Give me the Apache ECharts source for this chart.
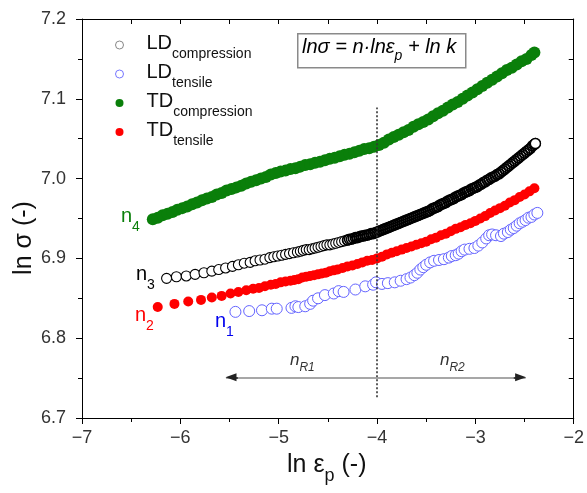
<!DOCTYPE html>
<html>
<head>
<meta charset="utf-8">
<script src="https://cdn.jsdelivr.net/npm/echarts@6/dist/echarts.min.js"></script>
<style>html,body{margin:0;padding:0;background:#fff;}#c{width:587px;height:493px;}</style>
</head>
<body>
<div id="c"></div>
<script>
// ---- data ----
const xTicks = [-7, -6, -5, -4, -3, -2];
const yTicks = [6.7, 6.8, 6.9, 7.0, 7.1, 7.2];

const ldCompression = [
[-6.14,6.875],[-6.04,6.877],[-5.94,6.878],[-5.85,6.880],[-5.76,6.882],[-5.68,6.884],[-5.61,6.886],[-5.54,6.888],[-5.47,6.890],[-5.41,6.892],
[-5.35,6.894],[-5.29,6.895],[-5.24,6.897],[-5.19,6.898],[-5.14,6.899],[-5.09,6.901],[-5.05,6.902],[-5.01,6.903],[-4.97,6.904],[-4.93,6.905],
[-4.89,6.906],[-4.85,6.907],[-4.81,6.908],[-4.78,6.909],[-4.75,6.910],[-4.72,6.911],[-4.69,6.911],[-4.66,6.912],[-4.63,6.913],[-4.60,6.914],
[-4.57,6.915],[-4.54,6.916],[-4.51,6.917],[-4.48,6.917],[-4.45,6.918],[-4.42,6.919],[-4.39,6.920],[-4.36,6.921],[-4.33,6.922],[-4.30,6.923],
[-4.28,6.924],[-4.26,6.924],[-4.24,6.925],[-4.22,6.926],[-4.20,6.926],[-4.18,6.927],[-4.16,6.928],[-4.14,6.928],[-4.12,6.929],[-4.10,6.929],
[-4.08,6.930],[-4.06,6.931],[-4.04,6.931],[-4.02,6.932],[-4.00,6.933],[-3.98,6.934],[-3.96,6.935],[-3.94,6.936],[-3.92,6.937],[-3.90,6.938],
[-3.88,6.939],[-3.86,6.940],[-3.84,6.941],[-3.82,6.942],[-3.80,6.943],[-3.78,6.944],[-3.76,6.945],[-3.74,6.946],[-3.72,6.947],[-3.70,6.948],
[-3.68,6.949],[-3.66,6.950],[-3.64,6.951],[-3.62,6.952],[-3.60,6.953],[-3.58,6.954],[-3.56,6.955],[-3.54,6.956],[-3.52,6.957],[-3.50,6.958],
[-3.48,6.959],[-3.46,6.960],[-3.44,6.962],[-3.42,6.963],[-3.40,6.964],[-3.38,6.965],[-3.36,6.967],[-3.34,6.968],[-3.32,6.969],[-3.30,6.970],
[-3.28,6.972],[-3.26,6.973],[-3.24,6.974],[-3.22,6.975],[-3.20,6.977],[-3.18,6.978],[-3.16,6.979],[-3.14,6.980],[-3.12,6.982],[-3.10,6.983],
[-3.08,6.984],[-3.06,6.985],[-3.04,6.987],[-3.02,6.988],[-3.00,6.989],[-2.98,6.990],[-2.96,6.992],[-2.94,6.993],[-2.92,6.995],[-2.90,6.996],
[-2.88,6.998],[-2.86,6.999],[-2.84,7.001],[-2.82,7.002],[-2.80,7.003],[-2.78,7.005],[-2.76,7.006],[-2.74,7.008],[-2.72,7.010],[-2.70,7.012],
[-2.68,7.014],[-2.66,7.016],[-2.64,7.018],[-2.62,7.020],[-2.60,7.022],[-2.58,7.024],[-2.56,7.026],[-2.54,7.028],[-2.52,7.030],[-2.50,7.032],
[-2.48,7.034],[-2.46,7.036],[-2.44,7.038],[-2.42,7.041],[-2.40,7.043],[-2.39,7.044]
];

const ldTensile = [
[-5.44,6.833],[-5.30,6.834],[-5.17,6.835],[-5.07,6.837],[-5.02,6.837],[-4.87,6.838],[-4.83,6.840],[-4.80,6.839],[-4.73,6.840],[-4.68,6.843],
[-4.65,6.847],[-4.60,6.850],[-4.53,6.854],[-4.44,6.856],[-4.39,6.859],[-4.34,6.858],[-4.22,6.861],[-4.12,6.865],[-4.04,6.867],[-4.01,6.870],
[-3.95,6.868],[-3.89,6.869],[-3.82,6.870],[-3.76,6.872],[-3.70,6.874],[-3.66,6.876],[-3.62,6.879],[-3.59,6.882],[-3.56,6.886],[-3.53,6.889],
[-3.50,6.892],[-3.46,6.895],[-3.42,6.897],[-3.37,6.898],[-3.32,6.899],[-3.27,6.901],[-3.24,6.903],[-3.20,6.904],[-3.17,6.906],[-3.14,6.909],
[-3.11,6.911],[-3.06,6.912],[-3.01,6.913],[-2.97,6.916],[-2.93,6.920],[-2.89,6.925],[-2.86,6.929],[-2.83,6.930],[-2.79,6.929],[-2.74,6.928],
[-2.71,6.931],[-2.67,6.933],[-2.64,6.936],[-2.61,6.938],[-2.58,6.941],[-2.55,6.944],[-2.52,6.946],[-2.49,6.948],[-2.46,6.951],[-2.43,6.952],
[-2.40,6.955],[-2.37,6.957]
];

const tdCompression = [
[-6.28,6.949],[-6.23,6.951],[-6.18,6.954],[-6.13,6.956],[-6.08,6.958],[-6.03,6.961],[-5.98,6.963],[-5.93,6.965],[-5.88,6.968],[-5.83,6.970],
[-5.78,6.973],[-5.73,6.975],[-5.68,6.977],[-5.63,6.980],[-5.58,6.982],[-5.53,6.985],[-5.48,6.987],[-5.43,6.989],[-5.38,6.991],[-5.33,6.994],
[-5.28,6.996],[-5.23,6.998],[-5.18,7.000],[-5.13,7.002],[-5.08,7.005],[-5.03,7.007],[-4.98,7.009],[-4.93,7.010],[-4.88,7.012],[-4.83,7.013],
[-4.78,7.015],[-4.73,7.017],[-4.68,7.018],[-4.63,7.020],[-4.58,7.021],[-4.53,7.023],[-4.48,7.025],[-4.43,7.026],[-4.38,7.028],[-4.33,7.030],
[-4.28,7.031],[-4.23,7.033],[-4.18,7.035],[-4.13,7.037],[-4.08,7.038],[-4.03,7.040],[-3.98,7.042],[-3.93,7.045],[-3.88,7.049],[-3.83,7.052],
[-3.78,7.055],[-3.73,7.058],[-3.68,7.061],[-3.63,7.065],[-3.58,7.068],[-3.53,7.071],[-3.48,7.074],[-3.43,7.078],[-3.38,7.082],[-3.33,7.085],
[-3.28,7.089],[-3.23,7.093],[-3.18,7.096],[-3.13,7.100],[-3.08,7.104],[-3.03,7.108],[-2.98,7.112],[-2.93,7.116],[-2.88,7.120],[-2.83,7.124],
[-2.78,7.128],[-2.73,7.132],[-2.68,7.136],[-2.63,7.139],[-2.58,7.143],[-2.53,7.147],[-2.48,7.150],[-2.43,7.155],[-2.40,7.158]
];

const tdTensile = [
[-6.23,6.839],[-6.06,6.843],[-5.92,6.846],[-5.79,6.848],[-5.68,6.851],[-5.58,6.853],[-5.49,6.856],[-5.41,6.858],[-5.33,6.860],[-5.26,6.862],
[-5.20,6.863],[-5.14,6.865],[-5.08,6.867],[-5.03,6.868],[-4.98,6.870],[-4.93,6.871],[-4.88,6.872],[-4.84,6.873],[-4.80,6.874],[-4.76,6.876],
[-4.72,6.877],[-4.68,6.878],[-4.64,6.879],[-4.60,6.880],[-4.56,6.881],[-4.52,6.882],[-4.48,6.884],[-4.44,6.885],[-4.40,6.886],[-4.35,6.888],
[-4.30,6.890],[-4.25,6.891],[-4.20,6.893],[-4.15,6.895],[-4.10,6.897],[-4.05,6.898],[-4.00,6.900],[-3.95,6.902],[-3.90,6.905],[-3.85,6.907],
[-3.80,6.909],[-3.75,6.911],[-3.70,6.913],[-3.65,6.915],[-3.60,6.917],[-3.55,6.919],[-3.50,6.921],[-3.45,6.924],[-3.40,6.926],[-3.35,6.929],
[-3.30,6.931],[-3.25,6.934],[-3.20,6.937],[-3.15,6.939],[-3.10,6.942],[-3.05,6.944],[-3.00,6.947],[-2.95,6.950],[-2.90,6.953],[-2.85,6.957],
[-2.80,6.960],[-2.75,6.963],[-2.70,6.966],[-2.65,6.970],[-2.60,6.973],[-2.55,6.977],[-2.50,6.980],[-2.45,6.984],[-2.40,6.988]
];

// annotation positions in data units
const dividerX = -4;
const dividerY = [6.726, 7.089];
const arrowY = 6.751;
const arrowX = [-5.535, -2.49];

// ---- chart ----
const FONT = 'Liberation Sans, Arial, sans-serif';
const chart = echarts.init(document.getElementById('c'), null, {renderer: 'canvas'});

const legendNames = {
  'LD compression': '{a|LD}{b|compression}',
  'LD tensile': '{a|LD}{b|tensile}',
  'TD compression': '{a|TD}{b|compression}',
  'TD tensile': '{a|TD}{b|tensile}'
};

function nLabel(x, y, sub, color) {
  return {
    type: 'text', left: x, top: y, silent: true,
    style: {text: '{a|n}{b|' + sub + '}', rich: {
      a: {fontSize: 20, lineHeight: 24, verticalAlign: 'top', fill: color, fontFamily: FONT},
      b: {fontSize: 14, lineHeight: 14, verticalAlign: 'top', padding: [14, 0, 0, 0], fill: color, fontFamily: FONT}
    }}
  };
}

// sparse (left), dense (right) and final point of the LD compression curve
const ldCompSparse = ldCompression.filter(p => p[0] < -4.29);
const ldCompDense = ldCompression.filter(p => p[0] >= -4.31);
const ldCompLast = ldCompression.slice(-1);

const option = {
  animation: false,
  backgroundColor: '#fff',
  grid: {left: 82, right: 10, top: 19, bottom: 75, containLabel: false},
  xAxis: [{
    type: 'value', min: -7, max: -2, interval: 1, position: 'bottom',
    axisLine: {show: true, onZero: false, lineStyle: {color: '#000', width: 1}},
    axisTick: {show: true, inside: false, length: 6, lineStyle: {color: '#000'}},
    minorTick: {show: true, splitNumber: 2, length: 4, lineStyle: {color: '#000'}},
    splitLine: {show: false},
    axisLabel: {color: '#333', fontSize: 18, fontFamily: FONT, margin: 11,
      formatter: v => (v < 0 ? '\u2212' : '') + Math.abs(v)}
  }, {
    type: 'value', min: -7, max: -2, interval: 0.5, position: 'top',
    axisLine: {show: true, onZero: false, lineStyle: {color: '#000', width: 1}},
    axisTick: {show: true, inside: true, length: 5, lineStyle: {color: '#000'}},
    splitLine: {show: false}, axisLabel: {show: false}
  }],
  yAxis: [{
    type: 'value', min: 6.7, max: 7.2, interval: 0.1, position: 'left',
    axisLine: {show: true, onZero: false, lineStyle: {color: '#000', width: 1}},
    axisTick: {show: true, inside: false, length: 6, lineStyle: {color: '#000'}},
    minorTick: {show: true, splitNumber: 2, length: 4, lineStyle: {color: '#000'}},
    splitLine: {show: false},
    axisLabel: {color: '#333', fontSize: 18, fontFamily: FONT, margin: 16,
      formatter: v => v.toFixed(1)}
  }, {
    type: 'value', min: 6.7, max: 7.2, interval: 0.05, position: 'right',
    axisLine: {show: true, onZero: false, lineStyle: {color: '#000', width: 1}},
    axisTick: {show: true, inside: true, length: 5, lineStyle: {color: '#000'}},
    splitLine: {show: false}, axisLabel: {show: false}
  }],
  legend: {
    orient: 'vertical', left: 110, top: 28, itemWidth: 8, itemHeight: 8, itemGap: 1,
    icon: 'circle', selectedMode: false,
    data: [
      {name: 'LD compression', itemStyle: {color: '#fff', borderColor: '#888', borderWidth: 1, opacity: 1}},
      {name: 'LD tensile', itemStyle: {color: '#fff', borderColor: '#7777ff', borderWidth: 1, opacity: 1}},
      {name: 'TD compression', itemStyle: {opacity: 1}},
      {name: 'TD tensile', itemStyle: {opacity: 1}}
    ],
    formatter: n => legendNames[n],
    textStyle: {padding: [0, 0, 0, 18], rich: {
      a: {fontSize: 20, lineHeight: 24, verticalAlign: 'top', color: '#111', fontFamily: FONT},
      b: {fontSize: 14, lineHeight: 14, verticalAlign: 'top', padding: [14, 0, 0, 0], color: '#111', fontFamily: FONT}
    }}
  },
  series: [
    {name: 'LD compression', type: 'scatter', data: ldCompSparse, symbol: 'circle', symbolSize: 10,
     itemStyle: {color: '#fff', borderColor: '#000', borderWidth: 1.1, opacity: 1}, z: 3},
    {name: 'LD compression', type: 'scatter', data: ldCompDense, symbol: 'circle', symbolSize: 10,
     itemStyle: {color: 'rgba(255,255,255,0)', borderColor: '#000', borderWidth: 1.6, opacity: 1}, z: 3},
    {name: 'LD compression', type: 'scatter', data: ldCompLast, symbol: 'circle', symbolSize: 10,
     itemStyle: {color: '#fff', borderColor: '#000', borderWidth: 1.3, opacity: 1}, z: 4},
    {name: 'LD tensile', type: 'scatter', data: ldTensile, symbol: 'circle', symbolSize: 11,
     itemStyle: {color: '#fff', borderColor: '#6464ff', borderWidth: 1, opacity: 1}, z: 3},
    {name: 'TD compression', type: 'scatter', data: tdCompression, symbol: 'circle', symbolSize: 12,
     itemStyle: {color: '#0a7f0a', opacity: 1}, z: 3},
    {name: 'TD tensile', type: 'scatter', data: tdTensile, symbol: 'circle', symbolSize: 10,
     itemStyle: {color: '#ff0000', opacity: 1}, z: 3},
    {name: 'guides', type: 'line', data: [], silent: true, z: 2,
     markLine: {
       silent: true, animation: false, symbol: 'none', label: {show: false},
       data: [
         [{coord: [dividerX, dividerY[0]], lineStyle: {color: '#333', width: 1.6, type: [2, 2]}},
          {coord: [dividerX, dividerY[1]]}],
         [{coord: [arrowX[0], arrowY], lineStyle: {color: '#8a8a8a', width: 1.5, type: 'solid'}},
          {coord: [arrowX[1], arrowY]}],
         [{coord: [arrowX[0] + 0.12, arrowY], symbol: 'none', lineStyle: {color: '#222', width: 1.5, type: 'solid'}},
          {coord: [arrowX[0] + 0.05, arrowY], symbol: 'triangle', symbolSize: [8, 11]}],
         [{coord: [arrowX[1] - 0.12, arrowY], symbol: 'none', lineStyle: {color: '#222', width: 1.5, type: 'solid'}},
          {coord: [arrowX[1] - 0.05, arrowY], symbol: 'triangle', symbolSize: [8, 11]}]
       ]
     }}
  ],
  graphic: [
    {type: 'rect', left: 297, top: 33, shape: {width: 168, height: 34}, silent: true,
     style: {fill: '#fff', stroke: '#8a8a8a', lineWidth: 1.5}},
    {type: 'text', left: 302, top: 37, silent: true,
     style: {text: '{i|ln\u03c3 = n\u00b7ln\u03b5}{s|p}{i| + ln k}', rich: {
       i: {fontSize: 20, fontStyle: 'italic', fontFamily: FONT, fill: '#000', lineHeight: 24, verticalAlign: 'top'},
       s: {fontSize: 14, fontStyle: 'italic', fontFamily: FONT, fill: '#000', lineHeight: 14, verticalAlign: 'top', padding: [12, 0, 0, 0]}
     }}},
    nLabel(121, 206, '4', '#0a7f0a'),
    nLabel(136, 264, '3', '#000'),
    nLabel(135, 305, '2', '#ff0000'),
    nLabel(215, 311, '1', '#0000ee'),
    {type: 'text', left: 290, top: 352, silent: true,
     style: {text: '{a|n}{b|R1}', rich: {
       a: {fontSize: 17, fontStyle: 'italic', lineHeight: 20, verticalAlign: 'top', fill: '#333', fontFamily: FONT},
       b: {fontSize: 12, fontStyle: 'italic', lineHeight: 12, verticalAlign: 'top', padding: [10, 0, 0, 0], fill: '#333', fontFamily: FONT}
     }}},
    {type: 'text', left: 440, top: 352, silent: true,
     style: {text: '{a|n}{b|R2}', rich: {
       a: {fontSize: 17, fontStyle: 'italic', lineHeight: 20, verticalAlign: 'top', fill: '#333', fontFamily: FONT},
       b: {fontSize: 12, fontStyle: 'italic', lineHeight: 12, verticalAlign: 'top', padding: [10, 0, 0, 0], fill: '#333', fontFamily: FONT}
     }}},
    {type: 'text', left: 287, top: 453, silent: true,
     style: {text: '{a|ln \u03b5}{b|p}{a| (-)}', rich: {
       a: {fontSize: 25, lineHeight: 30, verticalAlign: 'top', fill: '#111', fontFamily: FONT},
       b: {fontSize: 18, lineHeight: 18, verticalAlign: 'top', padding: [14, 0, 0, 0], fill: '#111', fontFamily: FONT}
     }}},
    {type: 'text', x: 12, y: 238, rotation: Math.PI / 2, silent: true,
     style: {text: 'ln \u03c3 (-)', fontSize: 25, fontFamily: FONT, fill: '#111', align: 'center', verticalAlign: 'top'}}
  ]
};
chart.setOption(option);
</script>
</body>
</html>
